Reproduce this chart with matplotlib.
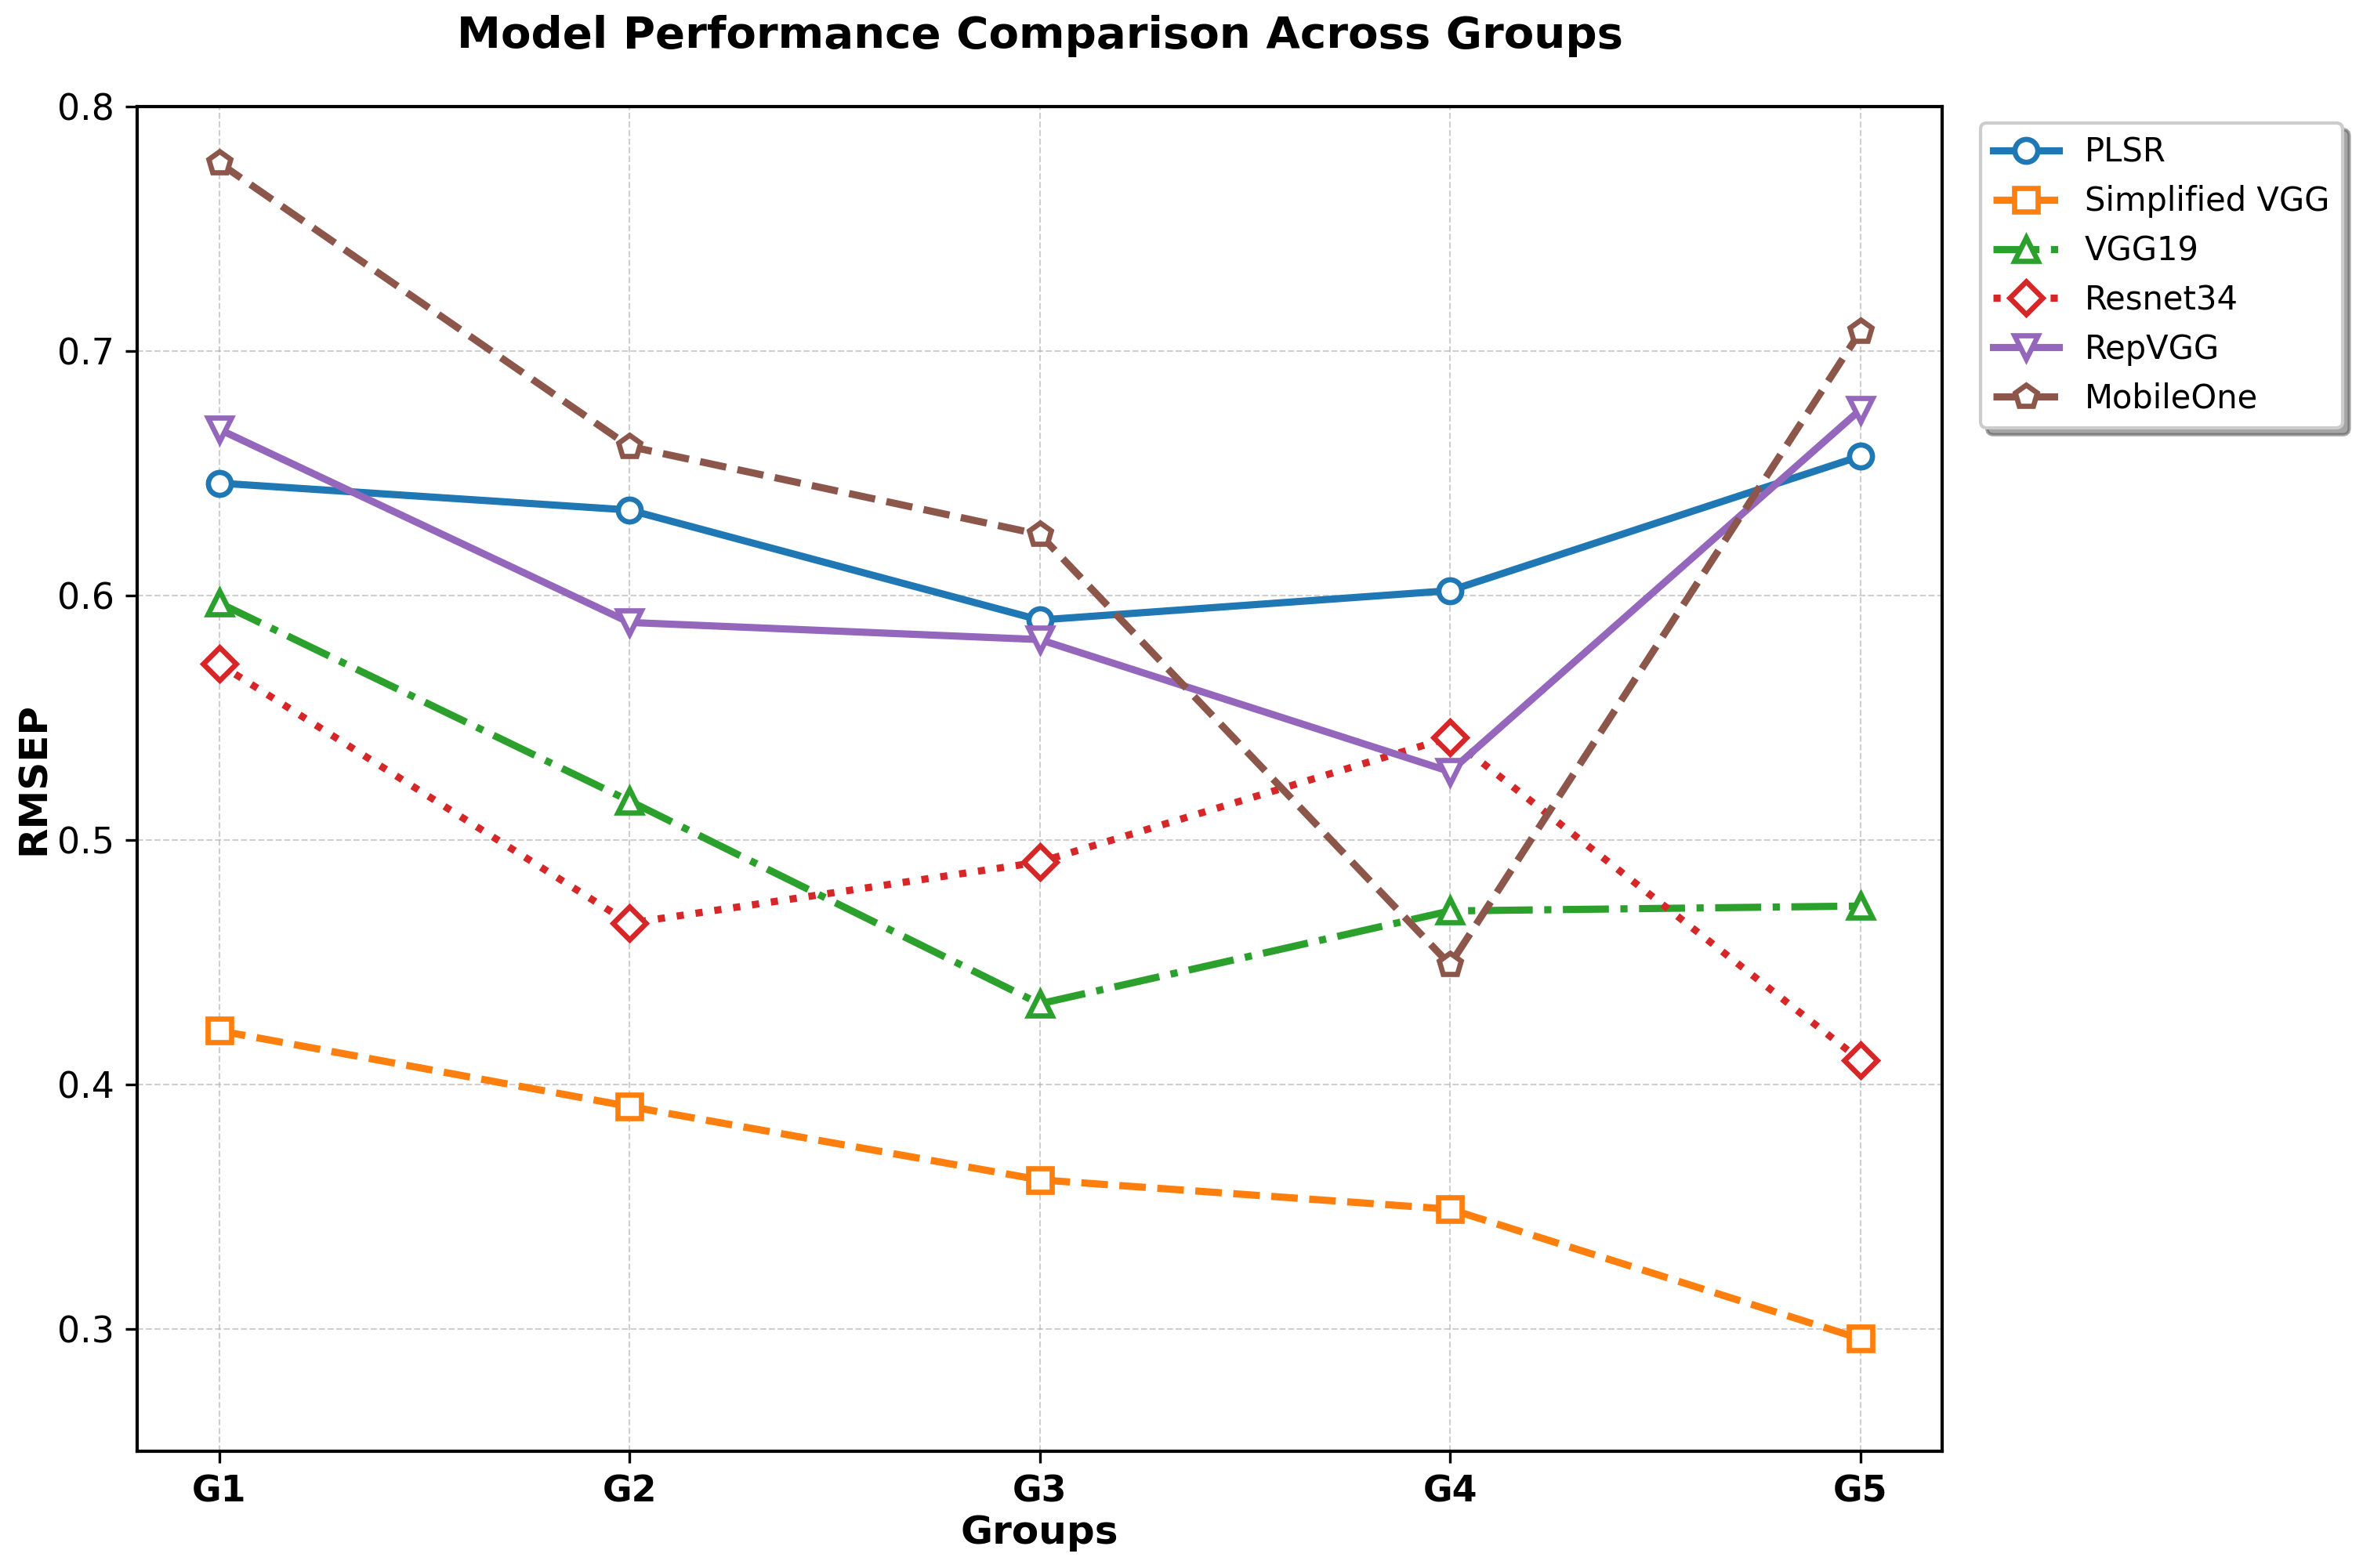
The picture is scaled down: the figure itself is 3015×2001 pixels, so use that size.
import matplotlib
matplotlib.use('Agg')
import matplotlib.pyplot as plt

groups = ['G1', 'G2', 'G3', 'G4', 'G5']

plsr = [0.646, 0.635, 0.590, 0.602, 0.657]
simplified_vgg = [0.422, 0.391, 0.361, 0.349, 0.296]
vgg19 = [0.597, 0.516, 0.433, 0.471, 0.473]
resnet34 = [0.572, 0.466, 0.491, 0.542, 0.410]
repvgg = [0.668, 0.589, 0.582, 0.528, 0.676]
mobileone = [0.777, 0.661, 0.625, 0.449, 0.708]

models = ['PLSR', 'Simplified VGG', 'VGG19', 'Resnet34', 'RepVGG', 'MobileOne']
values = [plsr, simplified_vgg, vgg19, resnet34, repvgg, mobileone]
markers = ['o', 's', '^', 'D', 'v', 'p']
styles = ['-', '--', '-.', ':', '-', '--']
colors = ['#1f77b4', '#ff7f0e', '#2ca02c', '#d62728', '#9467bd', '#8c564b']

fig, ax = plt.subplots(figsize=(10.05, 6.67), dpi=300)
fig.subplots_adjust(left=0.058, right=0.822, top=0.932, bottom=0.0745)

x = list(range(len(groups)))
for name, vals, m, ls, c in zip(models, values, markers, styles, colors):
    ax.plot(x, vals, marker=m, linestyle=ls, color=c, label=name,
            linewidth=2.2, markersize=7, markerfacecolor='white',
            markeredgewidth=1.6)

ax.set_xticks(x)
ax.set_xticklabels(groups, fontweight='bold', fontsize=11)
ax.tick_params(axis='y', labelsize=11)
ax.set_ylim(0.25, 0.8)
ax.set_yticks([0.3, 0.4, 0.5, 0.6, 0.7, 0.8])
ax.set_xlabel('Groups', fontsize=12, fontweight='bold', labelpad=1.5)
ax.set_ylabel('RMSEP', fontsize=12, fontweight='bold', labelpad=1.5)
ax.set_title('Model Performance Comparison Across Groups', fontsize=13.5,
             fontweight='bold', pad=18)
ax.grid(True, linestyle='--', linewidth=0.5, alpha=0.6)
for s in ax.spines.values():
    s.set_linewidth(1.0)

ax.legend(loc='upper left', bbox_to_anchor=(1.012, 1), fontsize=10,
          shadow=True, frameon=True)

fig.savefig('out.png', dpi=300)
